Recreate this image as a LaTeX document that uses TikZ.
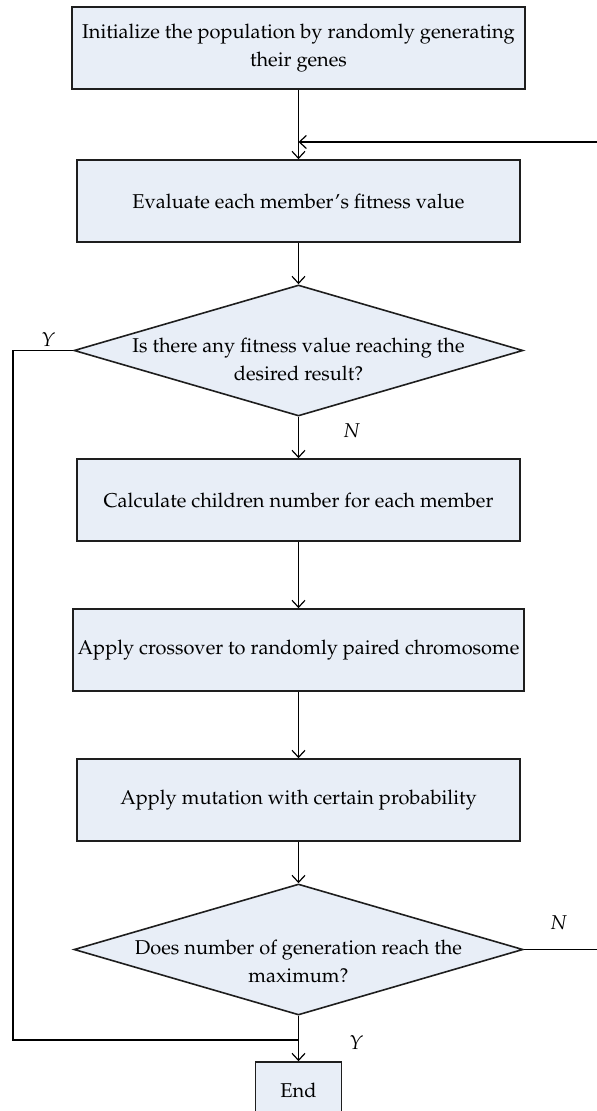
\documentclass[tikz,border=0pt]{standalone}
\usepackage[T1]{fontenc}
\usepackage{mathpazo}
\usetikzlibrary{shapes.geometric,arrows.meta}
\definecolor{boxfill}{RGB}{232,238,247}
\definecolor{boxline}{RGB}{30,30,30}
\begin{document}
\begin{tikzpicture}[x=0.5pt,y=-0.5pt,line width=0.6pt,every node/.style={font=\fontsize{10}{14}\selectfont,inner sep=1pt},
  process/.style={draw=boxline,line width=0.8pt,fill=boxfill,minimum height=41pt,align=center},
  decision/.style={diamond,draw=boxline,line width=0.8pt,fill=boxfill,inner sep=0pt,minimum width=224.5pt,minimum height=65.5pt},
  flow/.style={-{Straight Barb[length=3.5pt,width=6.5pt]}}]
\useasboundingbox (0,0) rectangle (597,1111);
\node[process,minimum width=226.5pt] (init) at (298.5,48) {Initialize the population by randomly generating\\their genes};
\node[process,minimum width=221.5pt] (eval) at (298.5,201) {Evaluate each member's fitness value};
\node[decision] (goal) at (298.5,350.5) {};
\node[align=center] (goalt) at (298.5,359) {Is there any fitness value reaching the\\desired result?};
\node[process,minimum width=221.5pt] (kids) at (298.5,500) {Calculate children number for each member};
\node[process,minimum width=225.5pt,inner sep=0pt] (cross) at (298.5,650) {Apply crossover to randomly paired chromosome};
\node[process,minimum width=221.5pt] (mut) at (298.5,800) {Apply mutation with certain probability};
\node[decision] (gen) at (298.5,949.5) {};
\node[align=center] (gent) at (298.5,961.5) {Does number of generation reach the\\maximum?};
\node[process,minimum width=43pt,minimum height=28pt] (end) at (298.5,1090) {End};
\coordinate (back) at (298.5,142);
\coordinate (right) at (600,949.5);
\coordinate (left) at (13,350.5);
\coordinate (join) at (298.5,1040);
\draw[flow] (init) -- (eval);
\draw[flow] (eval) -- (goal);
\draw[flow] (goal) -- (kids);
\draw[flow] (kids) -- (cross);
\draw[flow] (cross) -- (mut);
\draw[flow] (mut) -- (gen);
\draw[flow] (gen) -- (end);
\draw[flow] (gen.east) -- (right) |- (back);
\draw (goal.west) -- (left) |- (join);
\node (y1) at (48,340) {\textit{Y}};
\node (n1) at (352,431) {\textit{N}};
\node (n2) at (559,923) {\textit{N}};
\node (y2) at (356,1043) {\textit{Y}};
\end{tikzpicture}
\end{document}
